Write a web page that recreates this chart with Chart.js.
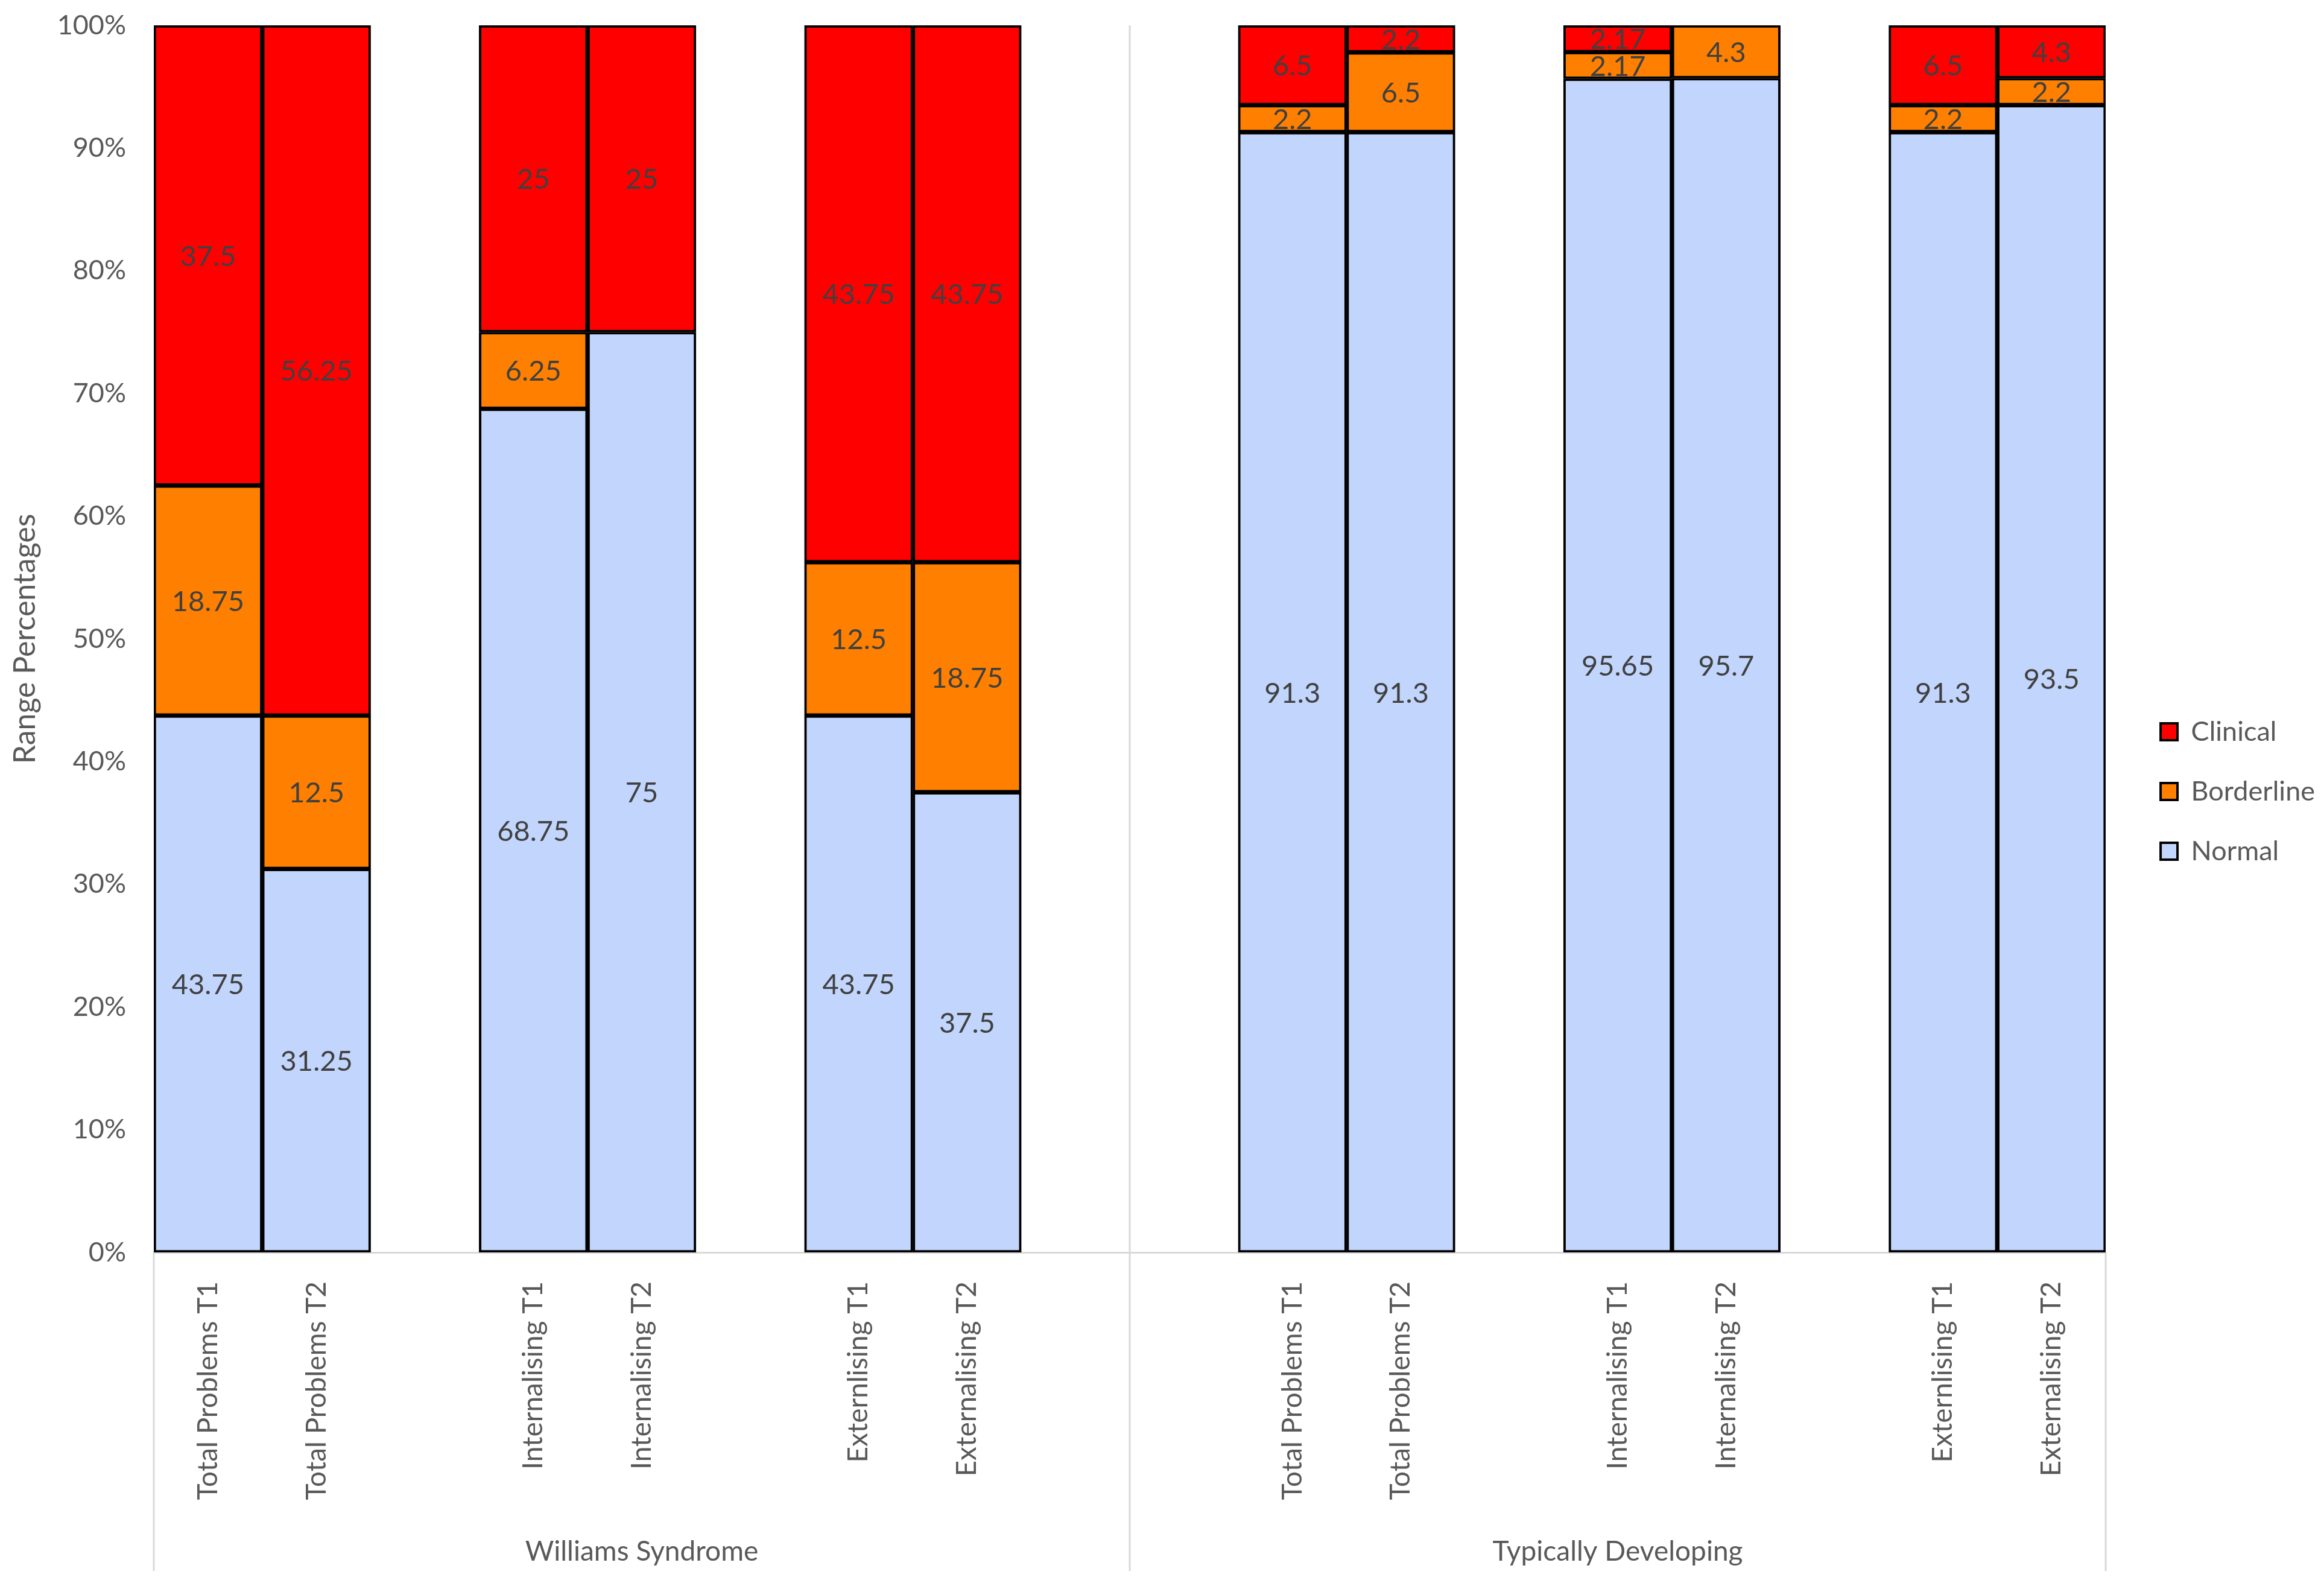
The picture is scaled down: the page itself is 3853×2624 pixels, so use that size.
<!DOCTYPE html>
<html>
<head>
<meta charset="utf-8">
<script src="https://cdn.jsdelivr.net/npm/chart.js@4.4.0/dist/chart.umd.min.js"></script>
<style>
    html, body { margin: 0; padding: 0; background: #fff; }
    #wrap { width: 3853px; height: 2624px; }
</style>
</head>
<body>
<div id="wrap"><canvas id="rangeChart"></canvas></div>
<script>
const categories = [
    'Total Problems T1', 'Total Problems T2', '',
    'Internalising T1', 'Internalising T2', '',
    'Externlising T1', 'Externalising T2', '',
    '', 'Total Problems T1', 'Total Problems T2',
    '', 'Internalising T1', 'Internalising T2',
    '', 'Externlising T1', 'Externalising T2'
];
const groups = ['Williams Syndrome', 'Typically Developing'];
const groupSize = 9;

const normal = [43.75, 31.25, null, 68.75, 75, null, 43.75, 37.5, null, null, 91.3, 91.3, null, 95.65, 95.7, null, 91.3, 93.5];
const borderline = [18.75, 12.5, null, 6.25, null, null, 12.5, 18.75, null, null, 2.2, 6.5, null, 2.17, 4.3, null, 2.2, 2.2];
const clinical = [37.5, 56.25, null, 25, 25, null, 43.75, 43.75, null, null, 6.5, 2.2, null, 2.17, null, null, 6.5, 4.3];

const FONT = 'Lato';
const TEXT = '#595959';

// value labels centred in each segment
const segmentLabels = {
    id: 'segmentLabels',
    afterDatasetsDraw(chart) {
        const ctx = chart.ctx;
        ctx.save();
        ctx.font = '47px ' + FONT;
        ctx.fillStyle = '#404040';
        ctx.textAlign = 'center';
        ctx.textBaseline = 'middle';
        chart.data.datasets.forEach((ds, i) => {
            chart.getDatasetMeta(i).data.forEach((bar, j) => {
                const v = ds.data[j];
                if (v == null) return;
                const p = bar.getProps(['x', 'y', 'base'], true);
                ctx.fillText(String(v), p.x, (p.y + p.base) / 2 + 2);
            });
        });
        ctx.restore();
    }
};

// group separators and group names under the category labels
const groupAxis = {
    id: 'groupAxis',
    afterDraw(chart) {
        const x = chart.scales.x;
        const ctx = chart.ctx;
        const half = (x.getPixelForValue(1) - x.getPixelForValue(0)) / 2;
        const lineBottom = chart.height - 20;
        ctx.save();
        ctx.strokeStyle = '#d9d9d9';
        ctx.lineWidth = 3;
        for (let g = 0; g <= groups.length; g++) {
            const px = x.getPixelForValue(g * groupSize) - half;
            const top = (g > 0 && g < groups.length) ? chart.chartArea.top : x.top;
            ctx.beginPath();
            ctx.moveTo(px, top);
            ctx.lineTo(px, lineBottom);
            ctx.stroke();
        }
        ctx.font = '46px ' + FONT;
        ctx.fillStyle = TEXT;
        ctx.textAlign = 'center';
        ctx.textBaseline = 'middle';
        groups.forEach((name, g) => {
            const left = x.getPixelForValue(g * groupSize) - half;
            const right = x.getPixelForValue((g + 1) * groupSize) - half;
            ctx.fillText(name, (left + right) / 2, chart.height - 52);
        });
        ctx.restore();
    }
};

new Chart(document.getElementById('rangeChart'), {
    type: 'bar',
    data: {
        labels: categories,
        datasets: [{
            label: 'Normal',
            data: normal,
            backgroundColor: '#c2d5fc'
        }, {
            label: 'Borderline',
            data: borderline,
            backgroundColor: '#ff8000'
        }, {
            label: 'Clinical',
            data: clinical,
            backgroundColor: '#ff0000'
        }]
    },
    options: {
        responsive: true,
        maintainAspectRatio: false,
        animation: false,
        datasets: {
            bar: {
                categoryPercentage: 1,
                barPercentage: 1,
                borderColor: '#000000',
                borderWidth: 4,
                borderSkipped: false
            }
        },
        layout: {
            padding: { top: 0, left: 0, right: 5, bottom: 0 }
        },
        plugins: {
            legend: {
                position: 'right',
                reverse: true,
                labels: {
                    boxWidth: 28,
                    boxHeight: 28,
                    padding: 54,
                    color: TEXT,
                    font: { family: FONT, size: 45 }
                }
            },
            tooltip: { enabled: false }
        },
        scales: {
            x: {
                stacked: true,
                grid: { display: false },
                border: { display: true, color: '#d9d9d9', width: 3 },
                ticks: {
                    autoSkip: false,
                    maxRotation: 90,
                    minRotation: 90,
                    padding: 40,
                    color: TEXT,
                    font: { family: FONT, size: 46 }
                },
                afterFit: s => { s.height = 548; }
            },
            y: {
                stacked: true,
                min: 0,
                max: 100,
                grid: { display: false, drawTicks: false },
                border: { display: false },
                ticks: {
                    stepSize: 10,
                    padding: 46,
                    color: TEXT,
                    font: { family: FONT, size: 45 },
                    callback: v => v + '%'
                },
                title: {
                    display: true,
                    text: 'Range Percentages',
                    color: TEXT,
                    font: { family: FONT, size: 50 },
                    padding: { top: 12, bottom: 0 }
                },
                afterFit: s => {
                    s.width = 255;
                    s.paddingTop = 42;
                }
            },
            yR: {
                position: 'right',
                display: true,
                grid: { display: false },
                border: { display: false },
                ticks: { display: false },
                afterFit: s => { s.width = 37; }
            }
        }
    },
    plugins: [segmentLabels, groupAxis]
});
</script>
</body>
</html>
